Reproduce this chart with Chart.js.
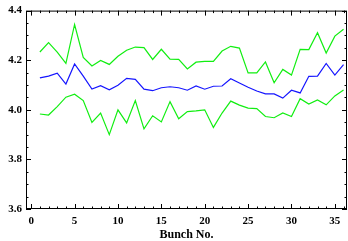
<!DOCTYPE html>
<html>
<head>
<meta charset="utf-8">
<script src="https://cdn.jsdelivr.net/npm/chart.js@4.4.1/dist/chart.umd.min.js"></script>
<style>
html, body { margin: 0; padding: 0; background: #fff; }
#wrap { width: 348px; height: 241px; }
</style>
</head>
<body>
<div id="wrap"><canvas id="chart"></canvas></div>
<script>
var bunch = [1, 2, 3, 4, 5, 6, 7, 8, 9, 10, 11, 12, 13, 14, 15, 16, 17, 18,
             19, 20, 21, 22, 23, 24, 25, 26, 27, 28, 29, 30, 31, 32, 33, 34, 35, 36];
var upper = [4.233, 4.271, 4.233, 4.187, 4.344, 4.211, 4.177, 4.199, 4.183, 4.216, 4.240, 4.253,
             4.251, 4.203, 4.244, 4.204, 4.203, 4.165, 4.192, 4.195, 4.195, 4.237, 4.256, 4.249,
             4.149, 4.149, 4.193, 4.109, 4.163, 4.140, 4.244, 4.243, 4.311, 4.229, 4.297, 4.325];
var mean  = [4.129, 4.136, 4.148, 4.104, 4.185, 4.136, 4.084, 4.097, 4.081, 4.099, 4.127, 4.123,
             4.083, 4.077, 4.089, 4.093, 4.089, 4.079, 4.096, 4.083, 4.095, 4.096, 4.125, 4.108,
             4.091, 4.076, 4.064, 4.064, 4.047, 4.079, 4.068, 4.135, 4.136, 4.187, 4.140, 4.182];
var lower = [3.983, 3.979, 4.013, 4.051, 4.063, 4.037, 3.949, 3.987, 3.900, 4.000, 3.947, 4.037,
             3.923, 3.976, 3.951, 4.033, 3.964, 3.993, 3.996, 4.000, 3.929, 3.987, 4.035, 4.019,
             4.007, 4.005, 3.973, 3.968, 3.987, 3.973, 4.045, 4.023, 4.040, 4.020, 4.056, 4.080];
var xTicks = [0, 5, 10, 15, 20, 25, 30, 35];
var yTicks = [3.6, 3.8, 4.0, 4.2, 4.4];

function pts(vals) {
    return bunch.map(function (b, i) { return { x: b, y: vals[i] }; });
}

var labelFont = { family: "'Liberation Serif', 'Times New Roman', serif", size: 11, weight: 'bold' };

// box frame with inward ticks on all four sides
var frameTicks = {
    id: 'frameTicks',
    afterDatasetsDraw: function (chart) {
        var a = chart.chartArea, ctx = chart.ctx;
        var xs = chart.scales.x, ys = chart.scales.y;
        ctx.save();
        ctx.strokeStyle = '#000';
        ctx.lineWidth = 1;
        ctx.strokeRect(a.left + 0.5, a.top + 0.5, a.right - a.left - 1, a.bottom - a.top - 1);
        ctx.beginPath();
        for (var v = 0; v <= 36; v++) {
            var px = Math.round(xs.getPixelForValue(v)) + 0.5;
            var len = v % 5 === 0 ? 5 : 2.5;
            ctx.moveTo(px, a.bottom); ctx.lineTo(px, a.bottom - len);
            ctx.moveTo(px, a.top); ctx.lineTo(px, a.top + len);
        }
        for (var k = 0; k <= 16; k++) {
            var py = Math.round(ys.getPixelForValue(3.6 + k * 0.05)) + 0.5;
            var l = k % 4 === 0 ? 5 : 2.5;
            ctx.moveTo(a.left, py); ctx.lineTo(a.left + l, py);
            ctx.moveTo(a.right, py); ctx.lineTo(a.right - l, py);
        }
        ctx.stroke();
        ctx.restore();
    }
};

new Chart(document.getElementById('chart'), {
    type: 'line',
    data: {
        datasets: [
            { data: pts(upper), borderColor: '#11ee11', borderWidth: 1.2, pointRadius: 0, tension: 0 },
            { data: pts(mean),  borderColor: '#1515ff', borderWidth: 1.2, pointRadius: 0, tension: 0 },
            { data: pts(lower), borderColor: '#11ee11', borderWidth: 1.2, pointRadius: 0, tension: 0 }
        ]
    },
    options: {
        responsive: true,
        maintainAspectRatio: false,
        animation: false,
        layout: { padding: { top: 10, right: 1, left: 0, bottom: 0 } },
        plugins: { legend: { display: false }, tooltip: { enabled: false } },
        scales: {
            x: {
                type: 'linear',
                min: -0.6,
                max: 36.4,
                afterBuildTicks: function (s) { s.ticks = xTicks.map(function (v) { return { value: v }; }); },
                afterFit: function (s) { s.height = 32; },
                grid: { display: false, drawTicks: false },
                border: { display: false },
                ticks: { font: labelFont, color: '#000', padding: 6, maxRotation: 0 },
                title: {
                    display: true,
                    text: 'Bunch No.',
                    color: '#000',
                    font: { family: "'Liberation Serif', 'Times New Roman', serif", size: 12, weight: 'bold', lineHeight: 1 },
                    padding: 0
                }
            },
            y: {
                min: 3.6,
                max: 4.4,
                afterBuildTicks: function (s) { s.ticks = yTicks.map(function (v) { return { value: v }; }); },
                afterFit: function (s) { s.width = 26; },
                grid: { display: false, drawTicks: false },
                border: { display: false },
                ticks: {
                    font: labelFont, color: '#000', padding: 4,
                    callback: function (v) { return Number(v).toFixed(1); }
                }
            }
        }
    },
    plugins: [frameTicks]
});
</script>
</body>
</html>
